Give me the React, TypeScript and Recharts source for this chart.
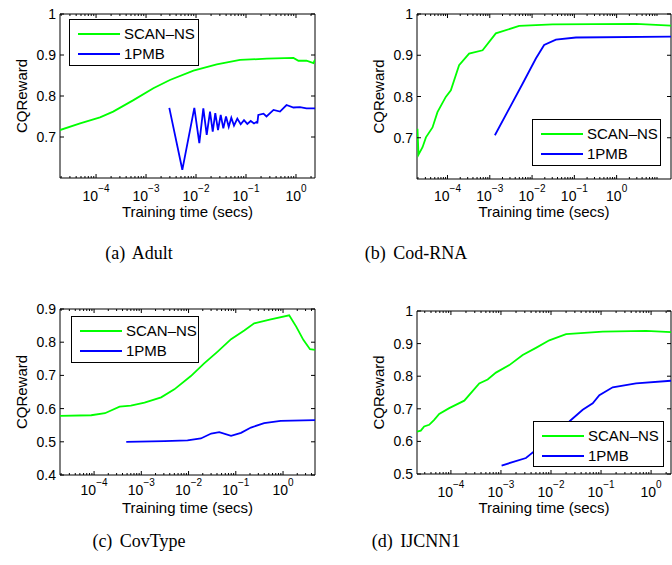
import React from "react";
import { LineChart, Line, XAxis, YAxis, ReferenceArea, Legend } from "recharts";

const FONT = '"Liberation Sans", Arial, Helvetica, sans-serif';
const SERIF = '"Liberation Serif", "Times New Roman", Times, serif';
const GREEN = "#00ff00";
const BLUE = "#0000ff";

const SERIES_NAMES = ["SCAN–NS", "1PMB"];
const CAPTIONS = ["(a) Adult", "(b) Cod-RNA", "(c) CovType", "(d) IJCNN1"];
const X_LABEL = "Training time (secs)";
const Y_LABEL = "CQReward";

// log axis: labelled decades and the minor steps between them
const X_MAJOR = [1e-4, 1e-3, 1e-2, 1e-1, 1];
const X_DECADES = [1e-5, 1e-4, 1e-3, 1e-2, 1e-1, 1, 10];
const X_MINOR_STEPS = [2, 3, 4, 5, 6, 7, 8, 9];

const Y_TICKS_ADULT = [0.7, 0.8, 0.9, 1];
const Y_TICKS_COD = [0.7, 0.8, 0.9, 1];
const Y_TICKS_COV = [0.4, 0.5, 0.6, 0.7, 0.8, 0.9];
const Y_TICKS_IJ = [0.5, 0.6, 0.7, 0.8, 0.9, 1];

// (a) Adult
const ADULT_SCAN_T = [1.9e-5, 4.8e-5, 1.2e-4, 2.2e-4, 5.6e-4, 1.4e-3, 3.0e-3, 8.9e-3, 0.026, 0.076, 0.26, 0.89, 1.12, 1.62, 2.24, 2.4];
const ADULT_SCAN_V = [0.717, 0.733, 0.748, 0.762, 0.79, 0.819, 0.839, 0.862, 0.877, 0.888, 0.891, 0.893, 0.886, 0.886, 0.88, 0.889];
const ADULT_PMB_T = [0.00292, 0.00532, 0.00925, 0.01164, 0.014, 0.01637, 0.01905, 0.02158, 0.0243, 0.02754, 0.0312, 0.03516, 0.0398, 0.0451, 0.0508, 0.0575, 0.067, 0.0783, 0.0912, 0.1062, 0.1242, 0.1445, 0.1637, 0.1683, 0.1762, 0.2239, 0.257, 0.355, 0.479, 0.646, 0.89, 1.2, 1.62, 2.4];
const ADULT_PMB_V = [0.771, 0.62, 0.771, 0.685, 0.77, 0.705, 0.762, 0.713, 0.758, 0.717, 0.754, 0.721, 0.75, 0.725, 0.747, 0.728, 0.745, 0.731, 0.741, 0.732, 0.739, 0.733, 0.737, 0.733, 0.754, 0.757, 0.75, 0.766, 0.762, 0.778, 0.772, 0.773, 0.77, 0.77];

// (b) Cod-RNA
const COD_SCAN_T = [1.95e-5, 2.06e-5, 2.57e-5, 3.09e-5, 4.42e-5, 5.79e-5, 9.1e-5, 1.2e-4, 1.88e-4, 3.24e-4, 6.76e-4, 1.39e-3, 4.95e-3, 0.0305, 2.86, 19.3];
const COD_SCAN_V = [0.722, 0.659, 0.677, 0.701, 0.725, 0.762, 0.799, 0.815, 0.876, 0.904, 0.912, 0.953, 0.971, 0.975, 0.976, 0.972];
const COD_PMB_T = [1.32e-3, 5.96e-3, 0.0123, 0.0193, 0.0366, 0.109, 19.3];
const COD_PMB_V = [0.706, 0.831, 0.892, 0.925, 0.938, 0.943, 0.945];

// (c) CovType
const COV_SCAN_T = [1.9e-5, 8.7e-5, 1.7e-4, 3.47e-4, 6.0e-4, 1.17e-3, 2.63e-3, 5.0e-3, 0.0112, 0.0214, 0.0407, 0.0794, 0.151, 0.245, 0.55, 1.35, 1.9, 2.69, 3.72, 4.75];
const COV_SCAN_V = [0.578, 0.58, 0.586, 0.606, 0.609, 0.618, 0.634, 0.658, 0.698, 0.736, 0.771, 0.809, 0.835, 0.857, 0.869, 0.881, 0.847, 0.807, 0.779, 0.777];
const COV_PMB_T = [4.8e-4, 3.1e-3, 9.5e-3, 0.0182, 0.0302, 0.0447, 0.0794, 0.129, 0.209, 0.398, 0.89, 4.75];
const COV_PMB_V = [0.5, 0.502, 0.504, 0.51, 0.525, 0.529, 0.518, 0.527, 0.543, 0.556, 0.563, 0.565];

// (d) IJCNN1
const IJ_SCAN_T = [2.1e-5, 2.5e-5, 2.92e-5, 3.68e-5, 4.63e-5, 5.83e-5, 9.25e-5, 1.85e-4, 3.68e-4, 5.42e-4, 7.94e-4, 1.47e-3, 2.72e-3, 5.0e-3, 9.25e-3, 0.02, 0.108, 0.794, 2.5];
const IJ_SCAN_V = [0.63, 0.633, 0.646, 0.651, 0.666, 0.684, 0.702, 0.725, 0.778, 0.79, 0.811, 0.834, 0.865, 0.887, 0.91, 0.929, 0.937, 0.939, 0.935];
const IJ_PMB_T = [1.03e-3, 3.16e-3, 5.0e-3, 9.25e-3, 0.0232, 0.043, 0.0682, 0.0925, 0.171, 0.5, 2.5];
const IJ_PMB_V = [0.526, 0.549, 0.574, 0.615, 0.661, 0.697, 0.717, 0.742, 0.766, 0.778, 0.786];

const Y_AXIS_W = 40;
const X_AXIS_H = 30;

const zip = (t: number[], v: number[]) => t.map((x, i) => ({ t: x, v: v[i] }));

function logTicks(lo: number, hi: number) {
  const out: number[] = [];
  X_DECADES.forEach((d) => X_MINOR_STEPS.forEach((m) => {
    const t = d * m;
    if (t >= lo && t <= hi) out.push(t);
  }));
  X_MAJOR.forEach((t) => { if (t >= lo && t <= hi) out.push(t); });
  return out.sort((a, b) => a - b);
}

function XTick(props: any) {
  const { x, y, payload, plotH, labelDy } = props;
  const v = payload.value;
  const major = X_MAJOR.includes(v);
  const len = major ? 4 : 2;
  const exp = Math.round(Math.log10(v));
  return (
    <g>
      <line x1={x} x2={x} y1={y} y2={y - len} stroke="#000" />
      <line x1={x} x2={x} y1={y - plotH} y2={y - plotH + len} stroke="#000" />
      {major && (
        <text x={x} y={y + labelDy} textAnchor="middle" fontSize={14} fontFamily={FONT} fill="#000">
          10<tspan dy={-9} fontSize={10}>{exp < 0 ? `−${-exp}` : `${exp}`}</tspan>
        </text>
      )}
    </g>
  );
}

function YTick(props: any) {
  const { x, y, payload, plotW } = props;
  const v = payload.value;
  return (
    <g>
      <line x1={x} x2={x + 4} y1={y} y2={y} stroke="#000" />
      <line x1={x + plotW} x2={x + plotW - 4} y1={y} y2={y} stroke="#000" />
      <text x={x - 4} y={y} dy={5} textAnchor="end" fontSize={14} fontFamily={FONT} fill="#000">
        {v === 1 ? "1" : v.toFixed(1)}
      </text>
    </g>
  );
}

function LegendBox({ payload }: any) {
  const items = [...(payload || [])].sort(
    (a: any, b: any) => SERIES_NAMES.indexOf(a.value) - SERIES_NAMES.indexOf(b.value)
  );
  return (
    <div style={{ width: "100%", height: "100%", boxSizing: "border-box", border: "1px solid #000", background: "#fff", position: "relative" }}>
      {items.map((p: any, i: number) => (
        <div key={p.value} style={{ position: "absolute", left: 8, top: 5 + i * 20, height: 18, display: "flex", alignItems: "center" }}>
          <svg width={42} height={4} style={{ display: "block" }}>
            <line x1={0} x2={42} y1={2} y2={2} stroke={p.color} strokeWidth={2} />
          </svg>
          <span style={{ marginLeft: 4, fontSize: 15, fontFamily: FONT, lineHeight: "18px", color: "#000", whiteSpace: "nowrap" }}>{p.value}</span>
        </div>
      ))}
    </div>
  );
}

type PanelProps = {
  box: { left: number; top: number; width: number; height: number };
  plot: { left: number; top: number; right: number; bottom: number };
  xDomain: [number, number];
  yDomain: [number, number];
  yTicks: number[];
  scan: { t: number; v: number }[];
  pmb: { t: number; v: number }[];
  legend: { left: number; top: number; width: number; height: number };
  tickDy: number;
  labelDy: number;
};

function Panel({ box, plot, xDomain, yDomain, yTicks, scan, pmb, legend, tickDy, labelDy }: PanelProps) {
  const margin = {
    top: plot.top - box.top,
    left: plot.left - box.left - Y_AXIS_W,
    right: box.left + box.width - plot.right,
    bottom: box.top + box.height - plot.bottom - X_AXIS_H,
  };
  const plotW = plot.right - plot.left;
  const plotH = plot.bottom - plot.top;
  const cx = plot.left - box.left + plotW / 2;
  const cy = plot.top - box.top + plotH / 2;
  const bottomY = plot.bottom - box.top;
  const yLabelX = plot.left - box.left - 38;

  return (
    <div style={{ position: "absolute", left: box.left, top: box.top }}>
      <LineChart width={box.width} height={box.height} margin={margin}>
        <XAxis
          dataKey="t"
          type="number"
          scale="log"
          domain={xDomain}
          allowDataOverflow
          ticks={logTicks(xDomain[0], xDomain[1])}
          interval={0}
          tickSize={0}
          tickMargin={0}
          axisLine={false}
          tickLine={false}
          height={X_AXIS_H}
          tick={<XTick plotH={plotH} labelDy={tickDy} />}
          label={{
            content: () => (
              <text x={cx} y={bottomY + labelDy} textAnchor="middle" fontSize={15} fontFamily={FONT} fill="#000">
                {X_LABEL}
              </text>
            ),
          }}
        />
        <YAxis
          type="number"
          domain={yDomain}
          allowDataOverflow
          ticks={yTicks}
          interval={0}
          tickSize={0}
          tickMargin={0}
          axisLine={false}
          tickLine={false}
          width={Y_AXIS_W}
          tick={<YTick plotW={plotW} />}
          label={{
            content: () => (
              <text
                x={yLabelX}
                y={cy}
                dy={5}
                transform={`rotate(-90 ${yLabelX} ${cy})`}
                textAnchor="middle"
                fontSize={15}
                fontFamily={FONT}
                fill="#000"
              >
                {Y_LABEL}
              </text>
            ),
          }}
        />
        <ReferenceArea
          x1={xDomain[0]}
          x2={xDomain[1]}
          y1={yDomain[0]}
          y2={yDomain[1]}
          fill="none"
          fillOpacity={0}
          stroke="#000"
          strokeWidth={1}
          ifOverflow="visible"
        />
        <Line data={scan} dataKey="v" name={SERIES_NAMES[0]} type="linear" stroke={GREEN} strokeWidth={1.8} dot={false} activeDot={false} isAnimationActive={false} />
        <Line data={pmb} dataKey="v" name={SERIES_NAMES[1]} type="linear" stroke={BLUE} strokeWidth={1.8} dot={false} activeDot={false} isAnimationActive={false} />
        <Legend
          layout="vertical"
          align="center"
          verticalAlign="middle"
          content={(p: any) => <LegendBox payload={p.payload} />}
          wrapperStyle={{ left: legend.left - box.left, top: legend.top - box.top, width: legend.width, height: legend.height, margin: 0 }}
        />
      </LineChart>
    </div>
  );
}

export default function App() {
  return (
    <div style={{ position: "absolute", left: 0, top: 0, width: 672, height: 565, overflow: "hidden", background: "#fff" }}>
      <Panel
        box={{ left: 0, top: 0, width: 336, height: 230 }}
        plot={{ left: 60, top: 14, right: 315, bottom: 178 }}
        xDomain={[1.9e-5, 2.4]}
        yDomain={[0.6, 1]}
        yTicks={Y_TICKS_ADULT}
        scan={zip(ADULT_SCAN_T, ADULT_SCAN_V)}
        pmb={zip(ADULT_PMB_T, ADULT_PMB_V)}
        legend={{ left: 69, top: 19, width: 130, height: 47 }}
        tickDy={23}
        labelDy={38.5}
      />
      <Panel
        box={{ left: 336, top: 0, width: 336, height: 230 }}
        plot={{ left: 417, top: 14, right: 671, bottom: 179 }}
        xDomain={[1.9e-5, 19.3]}
        yDomain={[0.6, 1]}
        yTicks={Y_TICKS_COD}
        scan={zip(COD_SCAN_T, COD_SCAN_V)}
        pmb={zip(COD_PMB_T, COD_PMB_V)}
        legend={{ left: 532, top: 119, width: 129, height: 47 }}
        tickDy={22}
        labelDy={38}
      />
      <Panel
        box={{ left: 0, top: 290, width: 336, height: 240 }}
        plot={{ left: 60, top: 309, right: 315, bottom: 475 }}
        xDomain={[1.9e-5, 4.75]}
        yDomain={[0.4, 0.9]}
        yTicks={Y_TICKS_COV}
        scan={zip(COV_SCAN_T, COV_SCAN_V)}
        pmb={zip(COV_PMB_T, COV_PMB_V)}
        legend={{ left: 71, top: 316, width: 128, height: 47 }}
        tickDy={20}
        labelDy={38}
      />
      <Panel
        box={{ left: 336, top: 290, width: 336, height: 240 }}
        plot={{ left: 417, top: 311, right: 671, bottom: 474 }}
        xDomain={[2.1e-5, 2.5]}
        yDomain={[0.5, 1]}
        yTicks={Y_TICKS_IJ}
        scan={zip(IJ_SCAN_T, IJ_SCAN_V)}
        pmb={zip(IJ_PMB_T, IJ_PMB_V)}
        legend={{ left: 533, top: 421, width: 131, height: 46 }}
        tickDy={23}
        labelDy={39}
      />
      <svg width={672} height={565} style={{ position: "absolute", left: 0, top: 0, pointerEvents: "none" }}>
        {CAPTIONS.map((c, i) => (
          <text
            key={c}
            x={i % 2 === 0 ? 139 : 416}
            y={i < 2 ? 259 : 547}
            textAnchor="middle"
            fontSize={18}
            fontFamily={SERIF}
            fill="#000"
            style={{ wordSpacing: 3 }}
          >
            {c}
          </text>
        ))}
      </svg>
    </div>
  );
}
